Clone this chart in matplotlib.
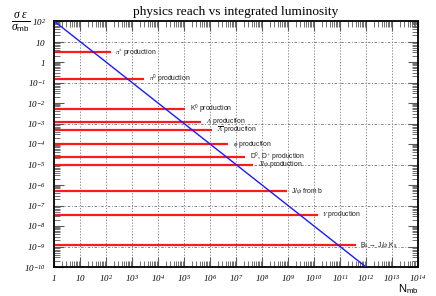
import matplotlib
matplotlib.use('Agg')
import matplotlib.pyplot as plt
import numpy as np
from matplotlib.ticker import LogLocator, NullFormatter, FixedLocator

# channel: (sigma*eps/sigma_mb, end of line in N_mb)
labels = [r'$\pi^{\pm}$ production', r'$\pi^{\mathsf{0}}$ production', r'K$^{\mathsf{0}}$ production',
          r'$\Lambda$ production', r'$\overline{\Lambda}$ production', r'$\phi$ production',
          r'D$^{\mathsf{0}}$, D$^{+}$ production', r'J/$\psi$ production', r'J/$\psi$ from b',
          r'$\Upsilon$ production', r'B$_{\mathsf{s}}$$\rightarrow$ J/$\psi$ K$_{\mathsf{s}}$']
sig = [3.0, 0.15, 5e-3, 1.2e-3, 4.8e-4, 1e-4, 2.3e-5, 1e-5, 5e-7, 3.5e-8, 1.2e-9]
xend = [150, 3e3, 1.1e5, 4.5e5, 1.2e6, 5e6, 2.2e7, 4.5e7, 9e8, 1.4e10, 4e11]

# reach line sigma*eps = 100 / N
n_reach = [1, 1e12]
s_reach = [100, 1e-10]

xticks = [10.0**k for k in range(0, 15)]
xticklabels = ['$1$', '$10$'] + [r'$10^{%d}$' % k for k in range(2, 15)]
yticks = [10.0**k for k in range(-10, 3)]
yticklabels = [r'$10^{%d}$' % k for k in range(-10, 0)] + ['$1$', '$10$', r'$10^{2}$']

plt.rcParams['mathtext.fontset'] = 'custom'
plt.rcParams['mathtext.rm'] = 'Liberation Serif:italic'
plt.rcParams['mathtext.it'] = 'Liberation Serif:italic'
plt.rcParams['mathtext.sf'] = 'Liberation Sans'

fig = plt.figure(figsize=(4.36, 2.96), dpi=100)
ax = fig.add_axes([54/436, 1 - 267/296, 364/436, 246/296])
ax.set_xscale('log')
ax.set_yscale('log')
ax.set_xlim(1, 1e14)
ax.set_ylim(1e-10, 1e2)

# grid: vertical every decade, horizontal at odd powers
for x in xticks[1:-1]:
    ax.axvline(x, color='0.45', lw=0.6, ls=(0, (1.5, 2)), zorder=0)
for y in [10.0**k for k in (1, -1, -3, -5, -7, -9)]:
    ax.axhline(y, color='0.45', lw=0.6, ls=(0, (3, 2, 1, 2)), zorder=0)

for s, xe, lab in zip(sig, xend, labels):
    ax.plot([1, xe], [s, s], color='#ff1a1a', lw=1.6, solid_capstyle='butt', zorder=2)
    ax.text(xe * 10**0.18, s, lab, fontsize=4.9, family='Liberation Sans',
            va='center', ha='left', color='0.1')

ax.plot(n_reach, s_reach, color='#1a1aff', lw=1.0, zorder=3)

ax.xaxis.set_major_locator(FixedLocator(xticks))
ax.yaxis.set_major_locator(FixedLocator(yticks))
ax.set_xticklabels(xticklabels)
ax.set_yticklabels(yticklabels)
ax.xaxis.set_minor_locator(LogLocator(base=10, subs=np.arange(2, 10), numticks=100))
ax.yaxis.set_minor_locator(LogLocator(base=10, subs=np.arange(2, 10), numticks=100))
ax.xaxis.set_minor_formatter(NullFormatter())
ax.yaxis.set_minor_formatter(NullFormatter())
ax.tick_params(which='both', direction='in', top=True, right=True, color='0.35')
ax.tick_params(which='major', length=7, width=0.8, labelsize=6.5)
ax.tick_params(axis='y', which='major', pad=6)
ax.tick_params(axis='x', which='major', pad=4)
ax.tick_params(which='minor', length=4, width=0.6)
for sp in ax.spines.values():
    sp.set_linewidth(1.3)

fig.text(236/436, 1 - 12/296, 'physics reach vs integrated luminosity',
         family='Liberation Serif', fontsize=9.6, ha='center', va='center')
fig.text(21/436, 1 - 22/296, r'$\frac{\sigma\ \epsilon}{\sigma_{\mathsf{mb}}}$',
         fontsize=12, ha='center', va='center')
fig.text(408/436, 1 - 289/296, r'N$_{\mathsf{mb}}$', family='Liberation Sans',
         fontsize=8, ha='center', va='center')

fig.savefig('out.png', dpi=100)
